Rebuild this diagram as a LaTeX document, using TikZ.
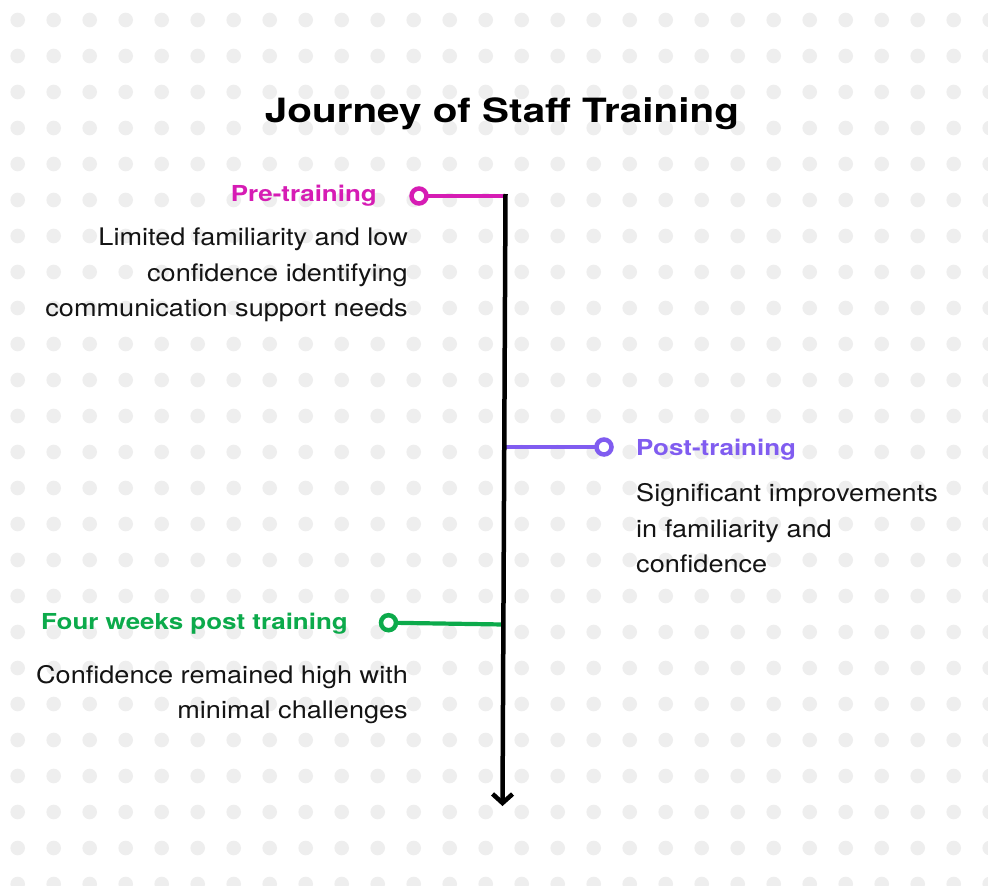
\documentclass[tikz,border=0pt]{standalone}
\usepackage{fontspec}
\setmainfont{TeX Gyre Heros}
\newfontfamily\bodyfont[FakeStretch=1.12]{TeX Gyre Heros}
\newfontfamily\headfont[FakeStretch=1.18]{TeX Gyre Heros}
\newfontfamily\titlefont[FakeStretch=1.21]{TeX Gyre Heros}
\usetikzlibrary{arrows.meta}
\definecolor{dotgray}{RGB}{238,238,238}
\definecolor{mag}{RGB}{214,28,180}
\definecolor{purp}{RGB}{128,92,240}
\definecolor{grn}{RGB}{12,170,75}
\definecolor{ink}{RGB}{20,20,20}
\tikzset{
  ring/.style={circle, draw=#1, fill=white, line width=4.5pt, minimum size=15pt, inner sep=0pt},
  link/.style={draw=#1, line width=4.2pt},
  head/.style={text=#1, font=\headfont\fontsize{22}{26}\selectfont\bfseries, inner sep=0pt},
  bodyL/.style={text=ink, font=\bodyfont\fontsize{24.2}{28}\selectfont, inner sep=0pt, anchor=base east},
  bodyR/.style={text=ink, font=\bodyfont\fontsize{24.2}{28}\selectfont, inner sep=0pt, anchor=base west},
}
\begin{document}
\begin{tikzpicture}[x=1pt,y=-1pt]
\useasboundingbox (0,0) rectangle (988,886);
\fill[white] (0,0) rectangle (988,886);
\foreach \i in {0,...,27}{
  \foreach \j in {0,...,24}{
    \fill[dotgray] (17.7+36*\i,20+36*\j) circle (7.3pt);
  }
}
% title
\node[font=\titlefont\fontsize{33.4}{38}\selectfont\bfseries, text=black, anchor=base, inner sep=0pt] (title) at (502,122) {Journey of Staff Training};
% main axis
\coordinate (top) at (505.5,194);
\coordinate (bot) at (502.5,806);
\coordinate (m1) at (505.5,196);
\coordinate (m2) at (504.5,447);
\coordinate (m3) at (503.5,624.5);
\draw[link=mag] (m1) -- (419,196) node[ring=mag] (c1) {};
\draw[link=purp] (m2) -- (604,447) node[ring=purp] (c2) {};
\draw[link=grn] (m3) -- (388.5,622.7) node[ring=grn] (c3) {};
\draw[line width=4.5pt, black, -{Straight Barb[length=9pt,width=20pt]}] (top) -- (bot);
% pre-training
\node[head=mag, anchor=base east] (h1) at (377,201) {Pre-training};
\node[bodyL] (b1a) at (408,245) {Limited familiarity and low};
\node[bodyL] (b1b) at (408,281) {confidence identifying};
\node[bodyL] (b1c) at (408,316.5) {communication support needs};
% post-training
\node[head=purp, anchor=base west] (h2) at (636,455) {Post-training};
\node[bodyR] (b2a) at (636,501) {Significant improvements};
\node[bodyR] (b2b) at (636,537) {in familiarity and};
\node[bodyR] (b2c) at (636,572) {confidence};
% four weeks
\node[head=grn, anchor=base east] (h3) at (348,629) {Four weeks post training};
\node[bodyL] (b3a) at (408,683) {Confidence remained high with};
\node[bodyL] (b3b) at (408,718) {minimal challenges};
\end{tikzpicture}
\end{document}
